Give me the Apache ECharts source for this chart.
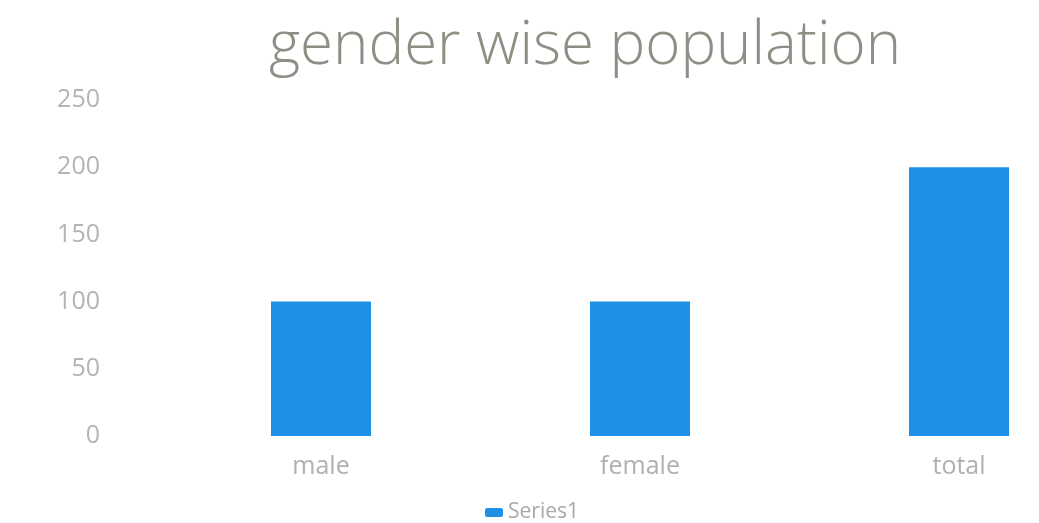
<!DOCTYPE html>
<html>
<head>
<meta charset="utf-8">
<script src="https://cdn.jsdelivr.net/npm/echarts@6/dist/echarts.min.js"></script>
<style>
    html, body { margin: 0; padding: 0; background: #fff; }
    #chart { width: 1039px; height: 523px; }
</style>
</head>
<body>
<div id="chart"></div>
<script>
    // 数据
    const categories = ['male', 'female', 'total'];
    const series1 = [100, 100, 200];
    const yTicks = [0, 50, 100, 150, 200, 250];

    const chart = echarts.init(document.getElementById('chart'));
    chart.setOption({
        animation: false,
        title: {
            text: 'gender wise population',
            left: 580,
            textAlign: 'center',
            top: 12,
            textStyle: {
                fontFamily: 'Open Sans',
                fontWeight: 300,
                fontSize: 60,
                color: '#8e8e84'
            }
        },
        legend: {
            top: 497,
            left: 480,
            itemWidth: 18,
            itemHeight: 9,
            itemGap: 8,
            textStyle: {
                fontFamily: 'Open Sans',
                fontSize: 21,
                color: '#a8a8a8'
            },
            data: ['Series1']
        },
        // 类目点放在边界上，柱中心 321 / 640 / 959
        grid: {
            left: 321,
            right: 80,
            top: 100,
            bottom: 87,
            containLabel: false
        },
        xAxis: {
            type: 'category',
            data: categories,
            boundaryGap: false,
            axisLine: { show: false },
            axisTick: { show: false },
            axisLabel: {
                margin: 18,
                fontFamily: 'Open Sans',
                fontSize: 25,
                color: '#b0b0b0'
            }
        },
        yAxis: {
            type: 'value',
            min: yTicks[0],
            max: yTicks[yTicks.length - 1],
            interval: 50,
            splitLine: { show: false },
            axisLabel: {
                margin: 221,
                fontFamily: 'Open Sans',
                fontSize: 25,
                color: '#b4b4b4'
            }
        },
        series: [{
            name: 'Series1',
            type: 'bar',
            barWidth: 100,
            data: series1,
            itemStyle: { color: '#1e90e6' }
        }]
    });
</script>
</body>
</html>
